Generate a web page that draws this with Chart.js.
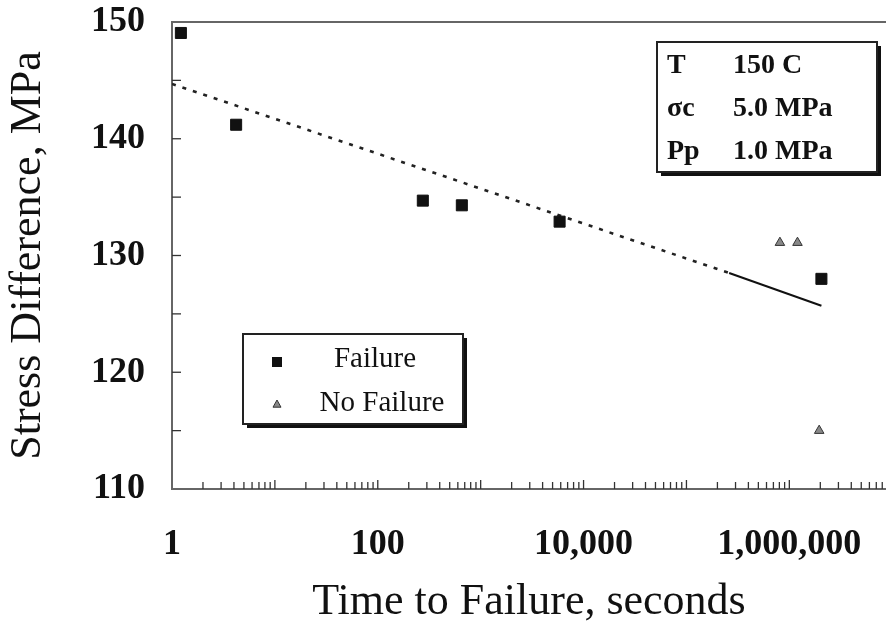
<!DOCTYPE html>
<html>
<head>
<meta charset="utf-8">
<script src="https://cdn.jsdelivr.net/npm/chart.js@4"></script>
<style>
  html, body { margin:0; padding:0; background:#fff; }
  #wrap { width:886px; height:631px; position:relative; }
</style>
</head>
<body>
<div id="wrap"><canvas id="chart" width="886" height="631"></canvas></div>
<script>
// values
const failTime = [1.22, 4.2, 274, 656, 5850, 2.05e6];
const failStress = [149.06, 141.2, 134.7, 134.3, 132.9, 128.0];
const noFailTime = [8.1e5, 1.2e6, 1.95e6];
const noFailStress = [131.1, 131.1, 115.0];
const fitDashTime = [1, 2.6e5];
const fitDashStress = [144.7, 128.5];
const fitSolidTime = [2.6e5, 2.05e6];
const fitSolidStress = [128.5, 125.7];
const xLabels = { 1: '1', 100: '100', 10000: '10,000', 1000000: '1,000,000' };
const yTicks = [110, 120, 130, 140, 150];
const infoRows = [['T', '150 C'], ['σc', '5.0 MPa'], ['Pp', '1.0 MPa']];
const legendRows = ['Failure', 'No Failure'];

const SERIF = "'Liberation Serif', 'DejaVu Serif', serif";
const pts = (xs, ys) => xs.map((x, i) => ({ x, y: ys[i] }));

function drawSquare(ctx, x, y, s){
  ctx.fillStyle = '#111';
  ctx.fillRect(x - s/2, y - s/2, s, s);
}
function drawTri(ctx, x, y, r){
  ctx.beginPath();
  ctx.moveTo(x, y - r);
  ctx.lineTo(x + r, y + r*0.8);
  ctx.lineTo(x - r, y + r*0.8);
  ctx.closePath();
  ctx.fillStyle = '#888'; ctx.fill();
  ctx.strokeStyle = '#333'; ctx.lineWidth = 1; ctx.stroke();
}
function shadowBox(ctx, x, y, w, h){
  ctx.fillStyle = '#111';
  ctx.fillRect(x + 4, y + 4, w, h);
  ctx.fillStyle = '#fff';
  ctx.fillRect(x, y, w, h);
  ctx.strokeStyle = '#222'; ctx.lineWidth = 2;
  ctx.strokeRect(x, y, w, h);
}
function noPad(s){ s.paddingTop = 0; s.paddingBottom = 0; s.paddingLeft = 0; s.paddingRight = 0; }

const decor = {
  id: 'decor',
  afterDraw(chart){
    const { ctx, chartArea: a, scales: { x, y } } = chart;
    ctx.save();
    ctx.strokeStyle = '#666'; ctx.lineWidth = 2;
    // top frame line
    ctx.beginPath(); ctx.moveTo(a.left, a.top); ctx.lineTo(a.right, a.top); ctx.stroke();
    // x minor / major ticks (inward)
    ctx.lineWidth = 1.3; ctx.strokeStyle = '#333';
    for (let d = 0; d <= 7; d++) {
      for (let m = 1; m <= 9; m++) {
        const v = m * Math.pow(10, d);
        if (v <= x.min || v > x.max) continue;
        const px = x.getPixelForValue(v);
        ctx.beginPath(); ctx.moveTo(px, a.bottom); ctx.lineTo(px, a.bottom - (m === 1 ? 9 : 7)); ctx.stroke();
      }
    }
    // y ticks every 5 (inward)
    for (let v = 115; v < 150; v += 5) {
      const py = y.getPixelForValue(v);
      ctx.beginPath(); ctx.moveTo(a.left, py); ctx.lineTo(a.left + 9, py); ctx.stroke();
    }
    // info box
    shadowBox(ctx, 657, 42, 220, 130);
    ctx.fillStyle = '#111'; ctx.textBaseline = 'middle'; ctx.textAlign = 'left';
    ctx.font = 'bold 28px ' + SERIF;
    infoRows.forEach((r, i) => {
      const ty = 66 + i * 43;
      ctx.fillText(r[0], 667, ty);
      ctx.fillText(r[1], 733, ty);
    });
    // legend box
    shadowBox(ctx, 243, 334, 220, 90);
    drawSquare(ctx, 277, 362, 10);
    drawTri(ctx, 277, 404, 4);
    ctx.fillStyle = '#111'; ctx.font = '29px ' + SERIF; ctx.textAlign = 'center';
    ctx.fillText(legendRows[0], 375, 359);
    ctx.fillText(legendRows[1], 382, 403);
    ctx.restore();
  }
};

new Chart(document.getElementById('chart'), {
  type: 'scatter',
  data: {
    datasets: [
      { label: 'Failure', data: pts(failTime, failStress), pointStyle: 'rect', pointRadius: 7.8,
        backgroundColor: '#111', borderColor: '#111', borderWidth: 1 },
      { label: 'No Failure', data: pts(noFailTime, noFailStress), pointStyle: 'triangle', pointRadius: 5.5,
        backgroundColor: '#888', borderColor: '#333', borderWidth: 1 },
      { label: 'fit', data: pts(fitDashTime, fitDashStress), showLine: true, pointRadius: 0,
        borderColor: '#222', borderWidth: 2.6, borderDash: [4, 7] },
      { label: 'fit2', data: pts(fitSolidTime, fitSolidStress), showLine: true, pointRadius: 0,
        borderColor: '#111', borderWidth: 2 }
    ]
  },
  options: {
    responsive: false, animation: false,
    layout: { autoPadding: false, padding: { top: 22, right: 0, left: 0, bottom: 0 } },
    plugins: { legend: { display: false }, tooltip: { enabled: false } },
    scales: {
      x: {
        type: 'logarithmic', min: 1, max: 8.7e6,
        grid: { display: false, drawTicks: false },
        border: { display: true, color: '#666', width: 2 },
        afterFit(s){ s.height = 142; noPad(s); },
        ticks: {
          autoSkip: false, maxRotation: 0, padding: 34, color: '#111',
          font: { family: SERIF, size: 36, weight: 'bold' },
          callback: (v) => xLabels[v] || ''
        },
        title: { display: true, text: 'Time to Failure, seconds', color: '#111',
          font: { family: SERIF, size: 44 }, padding: { top: 0, bottom: 2 } }
      },
      y: {
        min: 110, max: 150,
        afterFit(s){ s.width = 172; noPad(s); },
        afterBuildTicks(s){ s.ticks = yTicks.map(v => ({ value: v })); },
        grid: { display: false, drawTicks: false },
        border: { display: true, color: '#666', width: 2 },
        ticks: { padding: 27, color: '#111', font: { family: SERIF, size: 36, weight: 'bold' } },
        title: { display: true, text: 'Stress Difference, MPa', color: '#111',
          font: { family: SERIF, size: 44 }, padding: { top: 2, bottom: 0 } }
      }
    }
  },
  plugins: [decor]
});
</script>
</body>
</html>
